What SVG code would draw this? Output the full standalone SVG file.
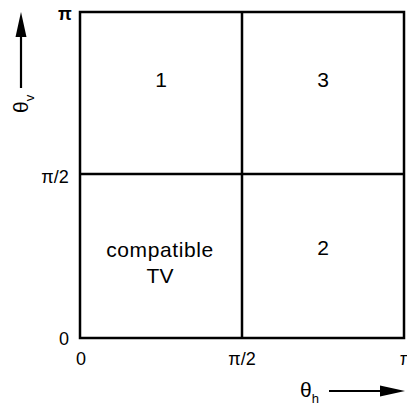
<svg xmlns="http://www.w3.org/2000/svg" width="407" height="407" viewBox="0 0 407 407">
<style>
text{font-family:"Liberation Sans",Arial,sans-serif;font-size:21px;fill:#000}
.ln{stroke:#000;stroke-width:2.5;fill:none}
.tk{font-size:18px}
</style>
<g id="grid">
<rect class="ln" x="80" y="12" width="324" height="326"/>
<line class="ln" x1="242" y1="12" x2="242" y2="338"/>
<line class="ln" x1="80" y1="174" x2="404" y2="174"/>
</g>
<g id="labels" text-anchor="middle">
<text x="161" y="87">1</text>
<text x="323" y="87">3</text>
<text x="323" y="255">2</text>
<text x="160" y="257" letter-spacing="0.6">compatible</text>
<text x="160" y="283">TV</text>
<text class="tk" x="65" y="20" font-weight="bold">π</text>
<text class="tk" x="55" y="183">π/2</text>
<text class="tk" x="64" y="345">0</text>
<text class="tk" x="81" y="365">0</text>
<text class="tk" x="242" y="365">π/2</text>
<text class="tk" x="406" y="365">π</text>
</g>
<g id="axes">
<path d="M21,88 V30" stroke="#000" stroke-width="2.2"/>
<path d="M15.5,37 L21,12 L26.5,37 Z" fill="#000"/>
<text transform="translate(28,113) rotate(-90)" font-size="20">θ<tspan font-size="13" dy="6">v</tspan></text>
<text x="300" y="397" font-size="20">θ<tspan font-size="13" dy="6">h</tspan></text>
<path d="M329,391 H385" stroke="#000" stroke-width="2.2"/>
<path d="M380,385.5 L405,391 L380,396.5 Z" fill="#000"/>
</g>
</svg>
